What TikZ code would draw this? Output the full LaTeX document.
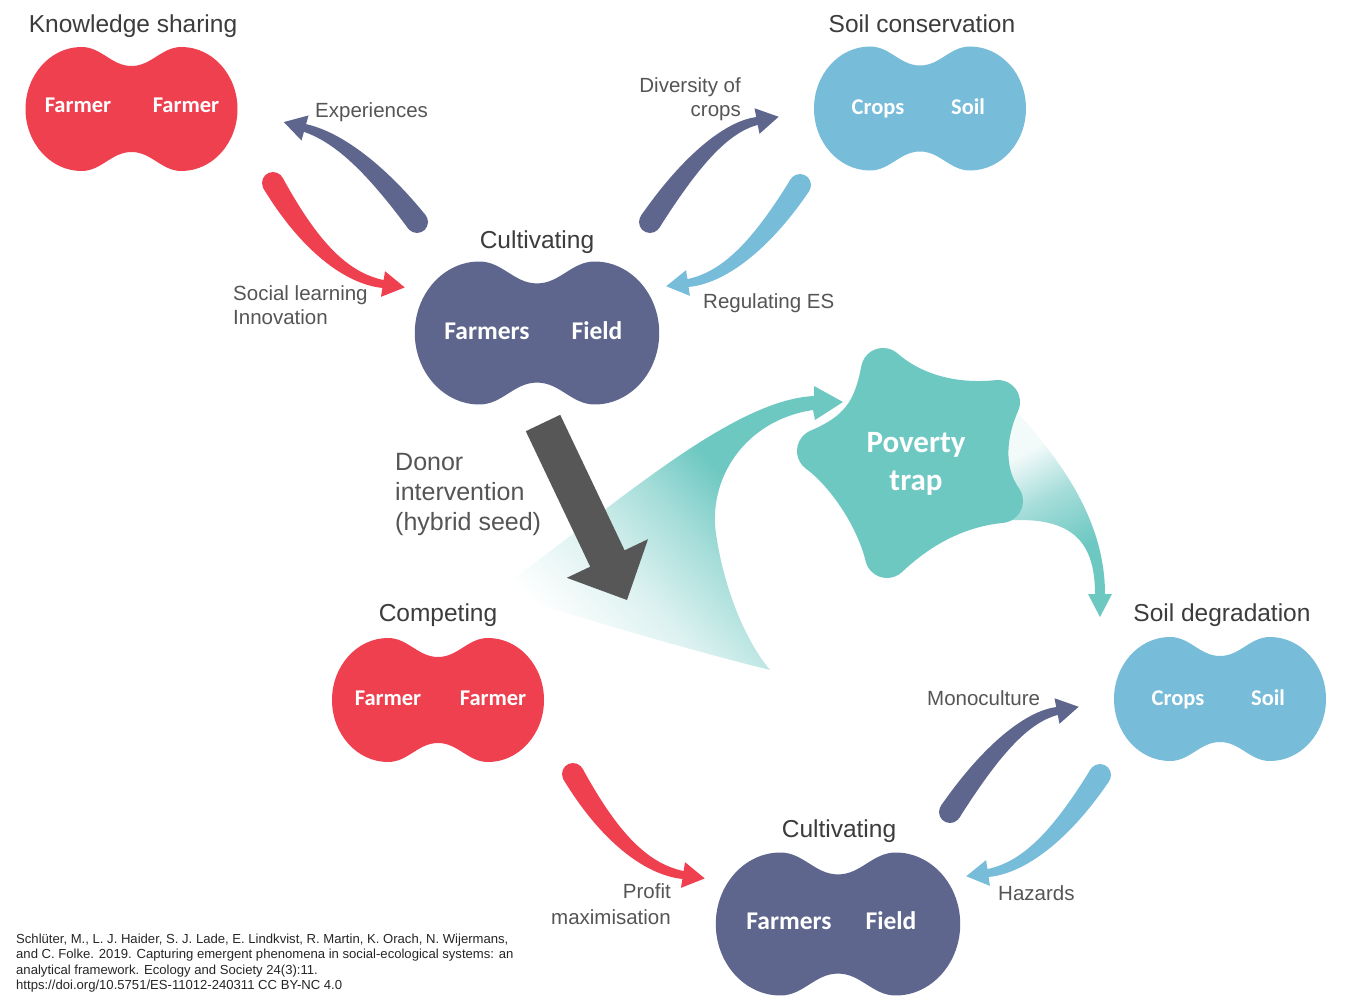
\documentclass[tikz,border=0pt]{standalone}
\usepackage{fontspec}
\setmainfont{Liberation Sans}
\newfontfamily\nodefont{Carlito}
\usetikzlibrary{calc}
\definecolor{cred}{HTML}{EF4050}
\definecolor{cdark}{HTML}{5E668E}
\definecolor{clight}{HTML}{77BCD9}
\definecolor{cteal}{HTML}{6EC8C2}
\definecolor{cgrey}{HTML}{575757}
\definecolor{ctitle}{HTML}{3C3C3C}
\definecolor{clabel}{HTML}{555555}
\colorlet{ctA}{cteal!25!white}
\colorlet{ctB}{cteal!62!white}
\colorlet{ctC}{cteal!8!white}
\pgfdeclareverticalshading{lfade}{100bp}{color(0bp)=(white); color(26bp)=(white); color(40bp)=(ctA); color(52bp)=(ctB); color(62bp)=(cteal); color(100bp)=(cteal)}
\pgfdeclareverticalshading{rfade}{100bp}{color(0bp)=(cteal); color(38bp)=(cteal); color(55bp)=(ctB); color(70bp)=(ctC); color(100bp)=(ctC)}
\newcommand{\tarr}[7]{%
\pgfmathsetmacro{\zqdx}{#4-#2}\pgfmathsetmacro{\zqdy}{#5-#3}%
\pgfmathsetmacro{\zqdl}{veclen(\zqdx,\zqdy)}%
\pgfmathsetmacro{\zqux}{\zqdx/\zqdl}\pgfmathsetmacro{\zquy}{\zqdy/\zqdl}%
\pgfmathsetmacro{\zqex}{#6-#4}\pgfmathsetmacro{\zqey}{#7-#5}%
\pgfmathsetmacro{\zqel}{veclen(\zqex,\zqey)}%
\pgfmathsetmacro{\zqvx}{\zqex/\zqel}\pgfmathsetmacro{\zqvy}{\zqey/\zqel}%
\pgfmathsetmacro{\zqax}{#2+2/3*(#4-#2)}\pgfmathsetmacro{\zqay}{#3+2/3*(#5-#3)}%
\pgfmathsetmacro{\zqbx}{#6+2/3*(#4-#6)}\pgfmathsetmacro{\zqby}{#7+2/3*(#5-#7)}%
\fill[#1] ({#2-(\zquy)*11},{#3+(\zqux)*11}) .. controls ({\zqax-(\zquy)*9.5},{\zqay+(\zqux)*9.5}) and ({\zqbx-(\zqvy)*6},{\zqby+(\zqvx)*6}) .. ({#6-(\zqvy)*4},{#7+(\zqvx)*4})
 -- ({#6-(\zqvy)*13},{#7+(\zqvx)*13}) -- ({#6+(\zqvx)*22},{#7+(\zqvy)*22}) -- ({#6+(\zqvy)*13},{#7-(\zqvx)*13}) -- ({#6+(\zqvy)*4},{#7-(\zqvx)*4})
 .. controls ({\zqbx+(\zqvy)*6},{\zqby-(\zqvx)*6}) and ({\zqax+(\zquy)*9.5},{\zqay-(\zqux)*9.5}) .. ({#2+(\zquy)*11},{#3-(\zqux)*11}) -- cycle;
\fill[#1] (#2,#3) circle[radius=11];
}
\tikzset{
 pics/peanut/.style={code={
  \fill[#1] (0,-43) .. controls (20,-43) and (30,-62) .. (50,-62)
   .. controls (81,-62) and (106,-34) .. (106,0)
   .. controls (106,34) and (81,62) .. (50,62)
   .. controls (30,62) and (20,43) .. (0,43)
   .. controls (-20,43) and (-30,62) .. (-50,62)
   .. controls (-81,62) and (-106,34) .. (-106,0)
   .. controls (-106,-34) and (-81,-62) .. (-50,-62)
   .. controls (-30,-62) and (-20,-43) .. (0,-43) -- cycle;
 }},
 title/.style={font=\fontsize{24.5}{29}\selectfont, text=ctitle, inner sep=0, anchor=base},
 lab/.style={font=\fontsize{20.5}{24}\selectfont, text=clabel, inner sep=0},
 donor/.style={font=\fontsize{25}{30}\selectfont, text=clabel, inner sep=0, anchor=base west},
 inlab/.style={font=\nodefont\bfseries\fontsize{22.5}{26}\selectfont, text=white, inner sep=0, anchor=base},
 inbig/.style={font=\nodefont\bfseries\fontsize{25.5}{30}\selectfont, text=white, inner sep=0, anchor=base},
 inpov/.style={font=\nodefont\bfseries\fontsize{31}{36}\selectfont, text=white, inner sep=0, anchor=base},
 foot/.style={font=\fontsize{13.1}{15}\selectfont, text=black!85, inner sep=0, anchor=base west}
}
\begin{document}
\begin{tikzpicture}[x=1pt,y=-1pt]
\fill[white] (0,0) rectangle (1347,1003);
\useasboundingbox (0,0) rectangle (1347,1003);
% gradient funnels
\shade[shading=lfade, shading angle=-47]
 (495,592) .. controls (610,510) and (730,400) .. (814,396)
 -- (814,386) -- (843,402) -- (815,420) -- (813,410)
 .. controls (745,420) and (705,480) .. (717,540)
 .. controls (725,590) and (745,640) .. (770,670)
 .. controls (650,640) and (560,610) .. (495,592) -- cycle;
\shade[shading=rfade, shading angle=28]
 (1000,410) -- (1018,413) .. controls (1060,460) and (1105,520) .. (1105,594)
 -- (1112,594) -- (1100,617) -- (1088,594) -- (1095,594)
 .. controls (1095,545) and (1075,520) .. (1020,520) -- (1000,520) -- cycle;
% star: five round caps joined by concave curves
\def\starpath{}
\foreach \qcx/\qcy/\qr/\qa/\qnx/\qny/\qnr/\qna/\qkk in {883/370/22/-109.2/998/402/22/-35.9/0.35, 998/402/22/-35.9/1001/501/22/24.4/0.35, 1001/501/22/24.4/887/556/22/106.6/0.35, 887/556/22/106.6/819/451/22/186.5/0.3, 819/451/22/186.5/883/370/22/250.8/0.45}{
  \pgfmathsetmacro\qex{\qcx+\qr*cos(\qa+60)}\pgfmathsetmacro\qey{\qcy+\qr*sin(\qa+60)}
  \pgfmathsetmacro\qsx{\qnx+\qnr*cos(\qna-60)}\pgfmathsetmacro\qsy{\qny+\qnr*sin(\qna-60)}
  \pgfmathsetmacro\qk{\qkk*veclen(\qsx-\qex,\qsy-\qey)}
  \pgfmathsetmacro\qpax{\qex+\qk*cos(\qa+150)}\pgfmathsetmacro\qpay{\qey+\qk*sin(\qa+150)}
  \pgfmathsetmacro\qpbx{\qsx-\qk*cos(\qna+30)}\pgfmathsetmacro\qpby{\qsy-\qk*sin(\qna+30)}
  \pgfmathsetmacro\qsa{\qa-60}\pgfmathsetmacro\qea{\qa+60}
  \xdef\starpath{\starpath arc[start angle=\qsa, end angle=\qea, radius=\qr] .. controls (\qpax,\qpay) and (\qpbx,\qpby) .. (\qsx,\qsy)}
}
\pgfmathsetmacro\qstx{883+22*cos(190.8)}\pgfmathsetmacro\qsty{370+22*sin(190.8)}
\edef\zzstar{\noexpand\fill[cteal] (\qstx,\qsty) \starpath -- cycle;}
\zzstar
\node[inpov] (pov1) at (916,452) {Poverty};
\node[inpov] (pov2) at (916,490) {trap};
% big grey arrow
\fill[cgrey] (525.8,431.2) -- (560.2,414.8) -- (624.6,550.3) -- (648,539.2) -- (627,600) -- (566.8,577.8) -- (590.2,566.7) -- cycle;
% peanuts
\pic (ks) at (131.5,109) {peanut=cred};
\pic (sc1) at (920,108.5) {peanut=clight};
\pic[scale=1.153] (cu1) at (537,333) {peanut=cdark};
\pic (cp) at (438,700) {peanut=cred};
\pic (sd) at (1220,699) {peanut=clight};
\pic[scale=1.153] (cu2) at (838,924) {peanut=cdark};
% curved arrows
\tarr{cdark}{417}{222}{355}{142}{305}{128}
\tarr{cred}{273}{183}{326}{275}{383}{284}
\tarr{cdark}{650}{222}{711}{130}{757}{121}
\tarr{clight}{800}{185}{742}{275}{688}{283}
\tarr{cred}{573}{774}{626}{866}{683}{875}
\tarr{cdark}{950}{812}{1011}{720}{1057}{711}
\tarr{clight}{1100}{775}{1042}{865}{988}{873}
% titles
\node[title] (tks) at (133,33) {Knowledge sharing};
\node[title] (tsc) at (922,33) {Soil conservation};
\node[title] (tc1) at (537,249) {Cultivating};
\node[title] (tcp) at (438,621) {Competing};
\node[title] (tsd) at (1222,621) {Soil degradation};
\node[title] (tc2) at (839,837) {Cultivating};
% inner labels
\node[inlab] (f1) at (78,113) {Farmer};
\node[inlab] (f2) at (186,113) {Farmer};
\node[inlab] (c1) at (878,115) {Crops};
\node[inlab] (s1) at (968,115) {Soil};
\node[inbig] (fa1) at (487,339) {Farmers};
\node[inbig] (fi1) at (597,339) {Field};
\node[inlab] (f3) at (388,705) {Farmer};
\node[inlab] (f4) at (493,705) {Farmer};
\node[inlab] (c2) at (1178,705) {Crops};
\node[inlab] (s2) at (1268,705) {Soil};
\node[inbig] (fa2) at (789,929) {Farmers};
\node[inbig] (fi2) at (891,929) {Field};
% arrow labels
\node[lab, anchor=base west] (lexp) at (315,118) {Experiences};
\node[lab, anchor=base east] (ldiv1) at (741,93) {Diversity of};
\node[lab, anchor=base east] (ldiv2) at (741,117) {crops};
\node[lab, anchor=base west] (lsoc1) at (233,300) {Social learning};
\node[lab, anchor=base west] (lsoc2) at (233,324) {Innovation};
\node[lab, anchor=base west] (lreg) at (703,308) {Regulating ES};
\node[donor] (ld1) at (395,470) {Donor};
\node[donor] (ld2) at (395,500) {intervention};
\node[donor] (ld3) at (395,530) {(hybrid seed)};
\node[lab, anchor=base west] (lmono) at (927,705) {Monoculture};
\node[lab, anchor=base west] (lhaz) at (998,900) {Hazards};
\node[lab, anchor=base east] (lpro1) at (671,898) {Profit};
\node[lab, anchor=base east] (lpro2) at (671,924) {maximisation};
% footer
\node[foot] (ft1) at (16,943) {Schlüter, M., L. J. Haider, S. J. Lade, E. Lindkvist, R. Martin, K. Orach, N. Wijermans,};
\node[foot] (ft2) at (16,958.5) {and C. Folke. 2019. Capturing emergent phenomena in social-ecological systems: an};
\node[foot] (ft3) at (16,974) {analytical framework. Ecology and Society 24(3):11.};
\node[foot] (ft4) at (16,989.5) {https://doi.org/10.5751/ES-11012-240311 CC BY-NC 4.0};
\end{tikzpicture}
\end{document}
